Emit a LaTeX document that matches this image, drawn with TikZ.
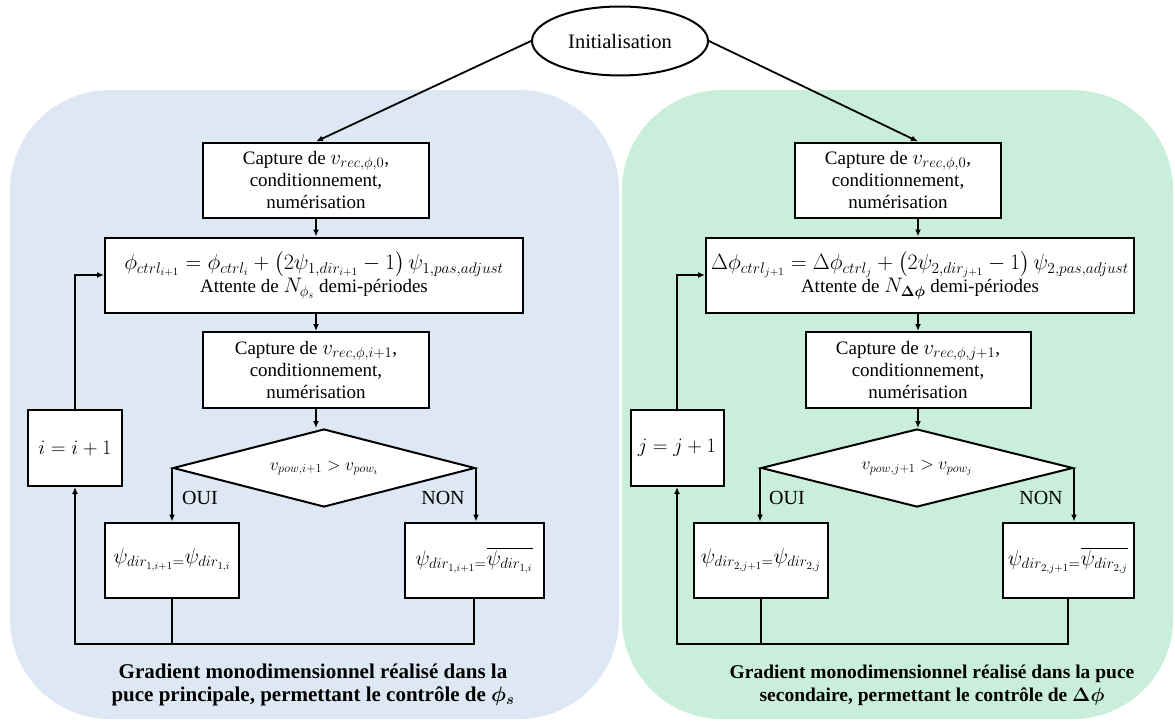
\RequirePackage{fix-cm}
\documentclass[tikz,border=0pt]{standalone}
\usepackage{amsmath,bm}
\usepackage[no-math]{fontspec}
\setmainfont{Liberation Serif}
\usetikzlibrary{shapes.geometric,arrows.meta}
\definecolor{panelblue}{HTML}{DEE8F5}
\definecolor{panelgreen}{HTML}{CAEEDC}
\newcommand{\mathsz}[2]{{\fontsize{#1}{24}\selectfont$#2$}}

\begin{document}
\begin{tikzpicture}[x=1pt,y=-1pt,
    font=\fontsize{19}{22}\selectfont,
    box/.style={draw,line width=2pt,fill=white,align=center,inner sep=0pt},
    test/.style={draw,diamond,aspect=3.9,line width=2pt,fill=white,inner sep=0pt},
    arr/.style={line width=1.8pt,-{Latex[length=7pt,width=6pt]}},
    lnk/.style={line width=1.8pt},
    lbl/.style={font=\fontsize{20}{22}\selectfont}]
    \useasboundingbox (0,0) rectangle (1175,720);
    \fill[panelblue,rounded corners=100pt] (10,90) rectangle (619,719);
    \fill[panelgreen,rounded corners=100pt] (622,90) rectangle (1173,719);
    \node[draw,ellipse,line width=2pt,fill=white,inner sep=0pt,minimum width=176pt,minimum height=69pt,font=\fontsize{20.5}{24}\selectfont] (init) at (620,41) {Initialisation};
    % puce principale
    \node[box,minimum width=226pt,minimum height=75pt] (capA0) at (316,180) {Capture de \mathsz{21}{v_{rec,\phi,0}},\\conditionnement,\\numérisation};
    \node[box,minimum width=418pt,minimum height=75pt] (formA) at (314,275) {\mathsz{22}{\phi_{ctrl_{i+1}} = \phi_{ctrl_i} + \bigl(2\psi_{1,dir_{i+1}} - 1\bigr)\,\psi_{1,pas,adjust}}\\Attente de \mathsz{21}{N_{\phi_s}} demi-périodes};
    \node[box,minimum width=226pt,minimum height=76pt] (capA1) at (316,370) {Capture de \mathsz{21}{v_{rec,\phi,i+1}},\\conditionnement,\\numérisation};
    \node[test,minimum width=302pt,minimum height=78pt] (testA) at (324,468) {\mathsz{17.5}{v_{pow,i+1} > v_{pow_i}}};
    \node[box,minimum width=94pt,minimum height=76pt] (incA) at (75,448) {\mathsz{20.5}{i = i + 1}};
    \node[box,minimum width=134pt,minimum height=75pt] (ouiA) at (172,560) {\mathsz{21.5}{\psi_{dir_{1,i+1}=}\psi_{dir_{1,i}}}};
    \node[box,minimum width=139pt,minimum height=75pt] (nonA) at (474,560) {\mathsz{21.5}{\psi_{dir_{1,i+1}=}\overline{\psi_{dir_{1,i}}}}};
    \node[lbl] (ouiAl) at (200,498) {OUI};
    \node[lbl] (nonAl) at (443,498) {NON};
    \node[align=center,font=\fontsize{21}{23}\selectfont\bfseries] (captA) at (313,685) {Gradient monodimensionnel réalisé dans la\\puce principale, permettant le contrôle de $\bm{\phi_s}$};
    \coordinate (botA) at (0,644);
    % puce secondaire
    \node[box,minimum width=206pt,minimum height=75pt] (capB0) at (898,180) {Capture de \mathsz{21}{v_{rec,\phi,0}},\\conditionnement,\\numérisation};
    \node[box,minimum width=428pt,minimum height=75pt] (formB) at (920,275) {\mathsz{22}{\Delta\phi_{ctrl_{j+1}} = \Delta\phi_{ctrl_j} + \bigl(2\psi_{2,dir_{j+1}} - 1\bigr)\,\psi_{2,pas,adjust}}\\Attente de \mathsz{21}{N_{\bm{\Delta\phi}}} demi-périodes};
    \node[box,minimum width=225pt,minimum height=76pt] (capB1) at (918,370) {Capture de \mathsz{21}{v_{rec,\phi,j+1}},\\conditionnement,\\numérisation};
    \node[test,minimum width=312pt,minimum height=78pt] (testB) at (917,468) {\mathsz{17.5}{v_{pow,j+1} > v_{pow_j}}};
    \node[box,minimum width=93pt,minimum height=76pt] (incB) at (677,448) {\mathsz{20.5}{j = j + 1}};
    \node[box,minimum width=134pt,minimum height=75pt] (ouiB) at (761,560) {\mathsz{21.5}{\psi_{dir_{2,j+1}=}\psi_{dir_{2,j}}}};
    \node[box,minimum width=131pt,minimum height=75pt] (nonB) at (1068,560) {\mathsz{21.5}{\psi_{dir_{2,j+1}=}\overline{\psi_{dir_{2,j}}}}};
    \node[lbl] (ouiBl) at (787,498) {OUI};
    \node[lbl] (nonBl) at (1041,498) {NON};
    \node[align=center,font=\fontsize{19.5}{23}\selectfont\bfseries] (captB) at (932,685) {Gradient monodimensionnel réalisé dans la puce\\secondaire, permettant le contrôle de $\bm{\Delta\phi}$};
    \coordinate (botB) at (0,644);
    % liaisons
    \draw[arr] (init.west) -- (capA0.north);
    \draw[arr] (capA0.south) -- (capA0.south |- formA.north);
    \draw[arr] (capA1.north |- formA.south) -- (capA1.north);
    \draw[arr] (capA1.south) -- (capA1.south |- testA.north);
    \draw[arr] (testA.west) -- (testA.west |- ouiA.north);
    \draw[arr] (testA.east) -- (testA.east |- nonA.north);
    \draw[lnk] (ouiA.south) -- (ouiA.south |- botA);
    \draw[arr] (nonA.south) -- (nonA.south |- botA) -| (incA.south);
    \draw[arr] (incA.north) |- (formA.west);
    \draw[arr] (init.east) -- (capB0.north -| capB1.north);
    \draw[arr] (capB0.south -| capB1.north) -- (capB1.north |- formB.north);
    \draw[arr] (capB1.north |- formB.south) -- (capB1.north);
    \draw[arr] (capB1.south) -- (capB1.south |- testB.north);
    \draw[arr] (testB.west) -- (testB.west |- ouiB.north);
    \draw[arr] (testB.east) -- (testB.east |- nonB.north);
    \draw[lnk] (ouiB.south) -- (ouiB.south |- botB);
    \draw[arr] (nonB.south) -- (nonB.south |- botB) -| (incB.south);
    \draw[arr] (incB.north) |- (formB.west);
\end{tikzpicture}
\end{document}
